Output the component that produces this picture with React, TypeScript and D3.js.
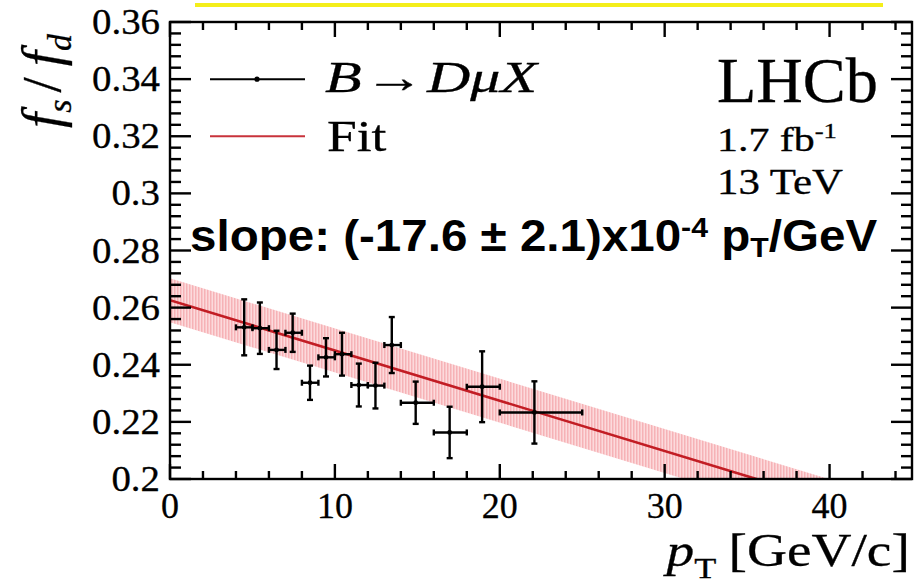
import React, { useEffect, useRef } from 'react';
import * as d3 from 'd3';

// measured bins (pT in GeV/c) and fs/fd values
const ptCenter = [4.5, 5.45, 6.46, 7.44, 8.49, 9.46, 10.43, 11.45, 12.46, 13.45, 14.9, 16.96, 18.93, 22.1];
const ptLow = [4, 5, 6, 7, 8, 9, 10, 11, 12, 13, 14, 16, 18, 20];
const ptHigh = [5, 6, 7, 8, 9, 10, 11, 12, 13, 14, 16, 18, 20, 25];
const ratio = [0.2531, 0.2528, 0.2452, 0.2512, 0.2337, 0.2426, 0.2437, 0.2329, 0.2327, 0.2469, 0.2267, 0.2163, 0.2323, 0.2233];
const ratioErr = [0.0098, 0.009, 0.0067, 0.0067, 0.006, 0.0067, 0.0075, 0.0075, 0.008, 0.0098, 0.0074, 0.009, 0.0124, 0.0109];

// linear fit
const fitIntercept = 0.2626;
const fitSlope = -0.00176;
const fitBand = 0.0077;
const fitPt = [0, 45];

const xTicks = [0, 10, 20, 30, 40];
const xTickLabels = ['0', '10', '20', '30', '40'];
const yTicks = [0.2, 0.22, 0.24, 0.26, 0.28, 0.3, 0.32, 0.34, 0.36];
const yTickLabels = ['0.2', '0.22', '0.24', '0.26', '0.28', '0.3', '0.32', '0.34', '0.36'];

const W = 922;
const H = 585;
const left = 170, right = 912, top = 22, bottom = 479;

const serif = '"Liberation Serif", "Times New Roman", serif';
const sans = '"Liberation Sans", Arial, sans-serif';

const App = () => {
  const svgRef = useRef<SVGSVGElement>(null);

  const x = d3.scaleLinear().domain([0, 45]).range([left, right]);
  const y = d3.scaleLinear().domain([0.2, 0.36]).range([bottom, top]);

  const xMinor = d3.range(0, 45.01, 2).filter(v => v % 10 !== 0);
  const yMinor = d3.range(0, 41).map(i => 0.2 + i * 0.004).filter(v => Math.abs(Math.round(v / 0.02) * 0.02 - v) > 1e-6);

  const fitLine = d3.line<number>()
    .x(d => x(d))
    .y(d => y(fitIntercept + fitSlope * d));
  const bandArea = d3.area<number>()
    .x(d => x(d))
    .y0(d => y(fitIntercept + fitSlope * d - fitBand))
    .y1(d => y(fitIntercept + fitSlope * d + fitBand));

  // stretch texts horizontally so they cover the same span as in the plot
  useEffect(() => {
    d3.select(svgRef.current).selectAll<SVGGElement, unknown>('g.span').each(function () {
      const l = +(this.getAttribute('data-l') || 0);
      const r = +(this.getAttribute('data-r') || 0);
      const bb = this.getBBox();
      if (!bb.width) return;
      const sx = (r - l) / bb.width;
      d3.select(this).attr('transform', `translate(${l},0) scale(${sx},1) translate(${-bb.x},0)`);
    });
  }, []);

  const cap = 3;

  return (
    <div style={{ position: 'absolute', left: 0, top: 0 }}>
      <svg ref={svgRef} width={W} height={H} style={{ display: 'block', background: '#fff' }}>
        <defs>
          <clipPath id="frame">
            <rect x={left} y={top} width={right - left} height={bottom - top} />
          </clipPath>
          <pattern id="hatch" width="3" height="3" patternUnits="userSpaceOnUse">
            <rect width="3" height="3" fill="#fcdadc" />
            <rect width="1.5" height="3" fill="#f6b2b6" />
          </pattern>
        </defs>

        {/* yellow highlight line */}
        <rect x={195} y={3} width={688} height={4} fill="#f4ee1a" />

        {/* fit band + line */}
        <g clipPath="url(#frame)">
          <path d={bandArea(fitPt) || ''} fill="url(#hatch)" />
          <path d={fitLine(fitPt) || ''} fill="none" stroke="#c21d24" strokeWidth={2.6} />
        </g>

        {/* data points */}
        <g stroke="#000" strokeWidth={2.4}>
          {ratio.map((v, i) => {
            const cx = x(ptCenter[i]);
            const cy = y(v);
            const x0 = x(ptLow[i]), x1 = x(ptHigh[i]);
            const y0 = y(v - ratioErr[i]), y1 = y(v + ratioErr[i]);
            return (
              <g key={i}>
                <line x1={x0} x2={x1} y1={cy} y2={cy} />
                <line x1={cx} x2={cx} y1={y0} y2={y1} />
                <line x1={cx - cap} x2={cx + cap} y1={y0} y2={y0} />
                <line x1={cx - cap} x2={cx + cap} y1={y1} y2={y1} />
                <line x1={x0} x2={x0} y1={cy - cap} y2={cy + cap} />
                <line x1={x1} x2={x1} y1={cy - cap} y2={cy + cap} />
                <circle cx={cx} cy={cy} r={2.4} fill="#000" stroke="none" />
              </g>
            );
          })}
        </g>

        {/* frame and ticks */}
        <g stroke="#000" strokeWidth={2.4} fill="none">
          <rect x={left} y={top} width={right - left} height={bottom - top} />
          {xTicks.map(t => (
            <g key={'xM' + t}>
              <line x1={x(t)} x2={x(t)} y1={bottom} y2={bottom - 15} />
              <line x1={x(t)} x2={x(t)} y1={top} y2={top + 15} />
            </g>
          ))}
          {xMinor.map(t => (
            <g key={'xm' + t}>
              <line x1={x(t)} x2={x(t)} y1={bottom} y2={bottom - 8} />
              <line x1={x(t)} x2={x(t)} y1={top} y2={top + 8} />
            </g>
          ))}
          {yTicks.map(t => (
            <g key={'yM' + t}>
              <line x1={left} x2={left + 21} y1={y(t)} y2={y(t)} />
              <line x1={right} x2={right - 21} y1={y(t)} y2={y(t)} />
            </g>
          ))}
          {yMinor.map(t => (
            <g key={'ym' + t}>
              <line x1={left} x2={left + 11} y1={y(t)} y2={y(t)} />
              <line x1={right} x2={right - 11} y1={y(t)} y2={y(t)} />
            </g>
          ))}
        </g>

        {/* tick labels */}
        <g fontFamily={serif} fontSize={36} fill="#000" stroke="#000" strokeWidth={0.3}>
          {xTicks.map((t, i) => (
            <text key={'xl' + t} x={x(t)} y={518} textAnchor="middle">{xTickLabels[i]}</text>
          ))}
          {yTicks.map((t, i) => (
            <text key={'yl' + t} transform={`translate(160,${y(t) + 12}) scale(1.08,1)`} textAnchor="end">{yTickLabels[i]}</text>
          ))}
        </g>

        {/* axis titles */}
        <g className="span" data-l={663} data-r={910}>
          <text x={663} y={566} fontFamily={serif} fontSize={46} fill="#000" stroke="#000" strokeWidth={0.3}>
            <tspan fontStyle="italic">p</tspan>
            <tspan fontSize={30} dy={12}>T</tspan>
            <tspan dy={-12} dx={10}>[GeV/c]</tspan>
          </text>
        </g>
        <text transform="translate(60,128) rotate(-90)" fontFamily={serif} fontSize={55} fontStyle="italic" fill="#000" stroke="#000" strokeWidth={0.3}>
          <tspan>f</tspan>
          <tspan fontSize={34} dy={11}>s</tspan>
          <tspan dy={-11} dx={7} fontStyle="normal">/</tspan>
          <tspan dx={11}>f</tspan>
          <tspan fontSize={34} dy={11}>d</tspan>
        </text>

        {/* legend */}
        <line x1={210} x2={305} y1={y(0.34)} y2={y(0.34)} stroke="#000" strokeWidth={2} />
        <circle cx={257} cy={y(0.34)} r={2.6} fill="#000" />
        <g className="span" data-l={325} data-r={540}>
          <text x={325} y={92} fontFamily={serif} fontSize={44} fill="#000" stroke="#000" strokeWidth={0.3}>
            <tspan fontStyle="italic">B</tspan>
            <tspan dx={2}>→</tspan>
            <tspan fontStyle="italic" dx={2}>DμX</tspan>
          </text>
        </g>
        <line x1={210} x2={305} y1={y(0.32)} y2={y(0.32)} stroke="#c8333b" strokeWidth={2} />
        <g className="span" data-l={327} data-r={387}>
          <text x={327} y={151} fontFamily={serif} fontSize={45} fill="#000" stroke="#000" strokeWidth={0.3}>Fit</text>
        </g>

        {/* LHCb labels */}
        <g className="span" data-l={717} data-r={878}>
          <text x={717} y={102} fontFamily={serif} fontSize={64} fill="#000" stroke="#000" strokeWidth={0.3}>LHCb</text>
        </g>
        <g className="span" data-l={717} data-r={837}>
          <text x={717} y={151} fontFamily={serif} fontSize={33} fill="#000" stroke="#000" strokeWidth={0.3}>
            1.7 fb<tspan fontSize={21} dy={-13}>-1</tspan>
          </text>
        </g>
        <g className="span" data-l={717} data-r={843}>
          <text x={717} y={194} fontFamily={serif} fontSize={35} fill="#000" stroke="#000" strokeWidth={0.3}>13 TeV</text>
        </g>

        {/* slope annotation */}
        <g className="span" data-l={190} data-r={878}>
          <text x={190} y={251} fontFamily={sans} fontWeight="bold" fontSize={44} fill="#000">
            slope: (-17.6 ± 2.1)x10<tspan fontSize={28} dy={-14}>-4</tspan>
            <tspan dy={14}> p</tspan>
            <tspan fontSize={28} dy={6}>T</tspan>
            <tspan dy={-6}>/GeV</tspan>
          </text>
        </g>
      </svg>
    </div>
  );
};

export default App;
